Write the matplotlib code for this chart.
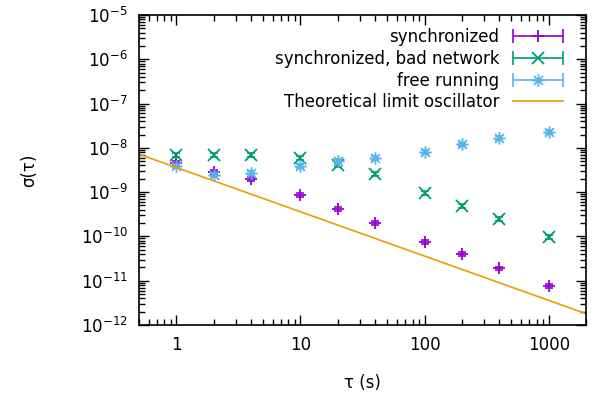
import numpy as np
import matplotlib
matplotlib.use("Agg")
import matplotlib.pyplot as plt
from matplotlib.path import Path
from matplotlib.ticker import LogLocator, NullFormatter, FixedLocator
from matplotlib.legend_handler import HandlerErrorbar
from matplotlib.container import ErrorbarContainer

tau = [1, 2, 4, 10, 20, 40, 100, 200, 400, 1000]
sync = [4.6e-9, 2.9e-9, 2.0e-9, 8.7e-10, 4.2e-10, 2.0e-10, 7.6e-11, 4.0e-11, 1.9e-11, 7.6e-12]
bad_net = [6.9e-9, 6.9e-9, 6.9e-9, 5.9e-9, 4.1e-9, 2.6e-9, 9.6e-10, 4.9e-10, 2.5e-10, 9.8e-11]
free_run = [3.9e-9, 2.5e-9, 2.7e-9, 3.9e-9, 5.0e-9, 5.9e-9, 8.1e-9, 1.2e-8, 1.7e-8, 2.3e-8]
limit_tau = [0.5, 2000]
limit_val = [7.2e-9, 1.8e-12]

labels = ["synchronized", "synchronized, bad network", "free running",
          "Theoretical limit oscillator"]
colors = ["#9400D3", "#009E73", "#56B4E9", "#E69F00"]

# gnuplot point type 3 (+ and x together)
star = Path([(-1, 0), (1, 0), (0, -1), (0, 1),
             (-0.707, -0.707), (0.707, 0.707), (-0.707, 0.707), (0.707, -0.707)],
            [Path.MOVETO, Path.LINETO] * 4)
markers = ["+", "x", star]

plt.rcParams["font.family"] = "DejaVu Sans"
plt.rcParams["font.size"] = 12

fig = plt.figure(figsize=(5.95, 4), dpi=100)
ax = fig.add_axes([0.2336, 0.1875, 0.985 - 0.2336, 0.9625 - 0.1875])

handles = []
for ys, c, m, lab in zip([sync, bad_net, free_run], colors, markers, labels):
    ys = np.array(ys)
    ax.errorbar(tau, ys, yerr=ys * 0.1, fmt="none", ecolor=c, elinewidth=1.2,
                capsize=3, capthick=1.2)
    ax.plot(tau, ys, linestyle="none", marker=m, color=c, markersize=9,
            markeredgewidth=1.3)
    h = ax.errorbar([np.nan], [np.nan], xerr=[1], fmt="none", ecolor=c,
                    elinewidth=1.2, capsize=5, capthick=1.2)
    hm, = ax.plot([np.nan], [np.nan], linestyle="none", marker=m, color=c,
                  markersize=9, markeredgewidth=1.3)
    handles.append((h, hm))

ln, = ax.plot(limit_tau, limit_val, color=colors[3], linewidth=1.2)
handles.append(ln)

ax.set_xscale("log")
ax.set_yscale("log")
ax.set_xlim(0.5, 2000)
ax.set_ylim(1e-12, 1e-5)

ax.xaxis.set_major_locator(FixedLocator([1, 10, 100, 1000]))
ax.set_xticklabels(["1", "10", "100", "1000"])
ax.xaxis.set_minor_locator(LogLocator(base=10, subs=np.arange(2, 10)))
ax.xaxis.set_minor_formatter(NullFormatter())
ax.yaxis.set_major_locator(FixedLocator([10.0 ** e for e in range(-12, -4)]))
ax.set_yticklabels([r"$10^{%d}$" % e for e in range(-12, -4)])
ax.yaxis.set_minor_locator(LogLocator(base=10, subs=np.arange(2, 10), numticks=20))
ax.yaxis.set_minor_formatter(NullFormatter())

ax.tick_params(which="both", direction="in", top=True, right=True, width=1)
ax.tick_params(which="major", length=7, pad=8)
ax.tick_params(which="minor", length=4)
for s in ax.spines.values():
    s.set_linewidth(1.2)

ax.set_xlabel("τ (s)", labelpad=14)
ax.set_ylabel("σ(τ)")
ax.yaxis.set_label_coords(-0.225, 0.5)

ax.legend(handles, labels, loc="upper right", bbox_to_anchor=(0.9776, 1.0),
          markerfirst=False, frameon=False,
          handlelength=3, labelspacing=0.22, borderaxespad=0.4, handletextpad=0.8,
          handler_map={ErrorbarContainer: HandlerErrorbar(xerr_size=1.5)})

fig.savefig("out.png", dpi=100)
